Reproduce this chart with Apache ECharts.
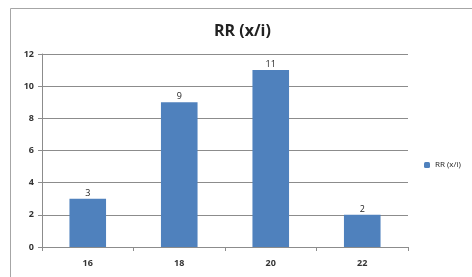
<!DOCTYPE html>
<html>
<head>
<meta charset="utf-8">
<script src="https://cdn.jsdelivr.net/npm/echarts@6/dist/echarts.min.js"></script>
<style>
  html, body { margin: 0; padding: 0; background: #fff; }
  #main { width: 472px; height: 277px; }
</style>
</head>
<body>
<div id="main"></div>
<script>
  // data
  var categories = ['16', '18', '20', '22'];
  var rrValues = [3, 9, 11, 2];
  var seriesName = 'RR (x/i)';

  var chart = echarts.init(document.getElementById('main'));
  chart.setOption({
    animation: false,
    textStyle: { fontFamily: 'Open Sans, sans-serif' },
    graphic: [{
      type: 'rect',
      shape: { x: 10.5, y: 8.5, width: 500, height: 300 },
      style: { fill: 'none', stroke: '#a6a6a6', lineWidth: 1 },
      silent: true
    }],
    title: {
      text: 'RR (x/i)',
      left: 209,
      top: 18,
      textStyle: { fontSize: 16, fontWeight: 'bold', color: '#222' }
    },
    legend: {
      data: [seriesName],
      orient: 'vertical',
      left: 419,
      top: 156,
      itemWidth: 6,
      itemHeight: 6,
      itemGap: 4,
      textStyle: { fontSize: 8, color: '#222' }
    },
    grid: { left: 42, right: 64, top: 54, bottom: 30, containLabel: false },
    xAxis: {
      type: 'category',
      data: categories,
      axisLine: { lineStyle: { color: '#8c8c8c' } },
      axisTick: { show: true, length: 4, lineStyle: { color: '#8c8c8c' } },
      axisLabel: { fontSize: 9, fontWeight: 'bold', color: '#333', margin: 12 }
    },
    yAxis: {
      type: 'value',
      min: 0,
      max: 12,
      interval: 2,
      axisLine: { show: true, lineStyle: { color: '#8c8c8c' } },
      axisTick: { show: true, length: 4, lineStyle: { color: '#8c8c8c' } },
      axisLabel: { fontSize: 9, fontWeight: 'bold', color: '#333', margin: 8 },
      splitLine: { lineStyle: { color: '#8c8c8c' } }
    },
    series: [{
      name: seriesName,
      type: 'bar',
      data: rrValues,
      barWidth: '40%',
      itemStyle: { color: '#4f81bd' },
      label: { show: true, position: 'top', distance: 1, fontSize: 9, color: '#222' }
    }]
  });
</script>
</body>
</html>
